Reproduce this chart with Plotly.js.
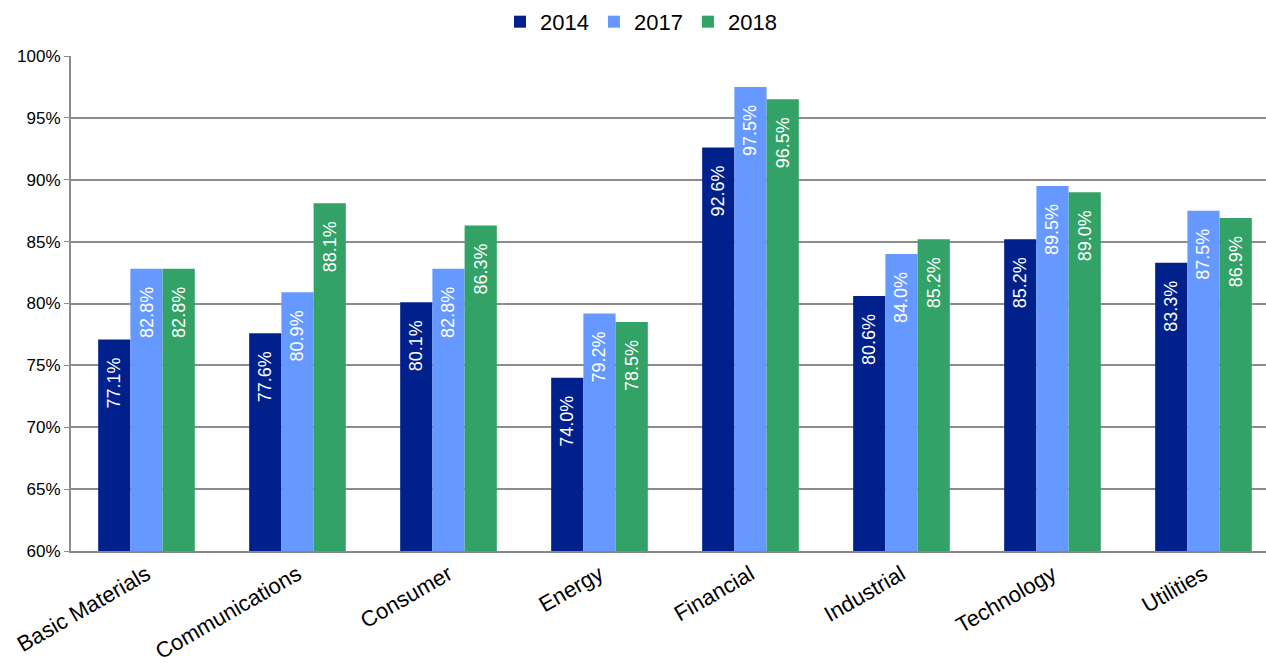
<!DOCTYPE html>
<html><head><meta charset="utf-8">
<script src="https://cdn.plot.ly/plotly-3.0.1.min.js"></script>
<style>html,body{margin:0;padding:0;background:#fff}#chart{width:1266px;height:663px}</style>
</head><body><div id="chart"></div>
<script>
const categories = ["Basic Materials","Communications","Consumer","Energy","Financial","Industrial","Technology","Utilities"];
const seriesNames = ["2014","2017","2018"];
const values2014 = [77.1, 77.6, 80.1, 74.0, 92.6, 80.6, 85.2, 83.3];
const values2017 = [82.8, 80.9, 82.8, 79.2, 97.5, 84.0, 89.5, 87.5];
const values2018 = [82.8, 88.1, 86.3, 78.5, 96.5, 85.2, 89.0, 86.9];
const yTickVals = [60,65,70,75,80,85,90,95,100];
const yTickText = ["60%","65%","70%","75%","80%","85%","90%","95%","100%"];
const colors = ["#00208C","#6699FF","#33A266"];

const pad = '\u00a0\u00a0\u00a0';
const all = [values2014, values2017, values2018];
const traces = all.map((v,i)=>({
  type:'bar', name:seriesNames[i], x:categories, y:v,
  marker:{color:colors[i]},
  text:v.map(d=>d.toFixed(1)+'%'+pad), textposition:'inside', insidetextanchor:'end',
  textangle:-90, textfont:{color:'#ffffff', size:18, family:'Liberation Sans, Arial, sans-serif'},
  constraintext:'none', cliponaxis:false, hoverinfo:'skip'
}));

Plotly.newPlot('chart', traces, {
  width:1266, height:663,
  margin:{l:71, r:0, t:56, b:112},
  barmode:'group', bargap:0.36, bargroupgap:0,
  paper_bgcolor:'#fff', plot_bgcolor:'#fff',
  showlegend:true,
  legend:{orientation:'h', x:0.477, xanchor:'center', yref:'container', y:0.967, yanchor:'middle',
    font:{family:'Liberation Sans Narrow, Liberation Sans, sans-serif', size:22, color:'#000'},
    itemwidth:30, tracegroupgap:0},
  xaxis:{range:[-0.5, 7.414], tickangle:-30, tickfont:{family:'Liberation Sans, Arial, sans-serif', size:22, color:'#000'},
    showline:true, linecolor:'#888', linewidth:2, ticks:'', showgrid:false, automargin:false},
  yaxis:{range:[60,100], tickvals:yTickVals, ticktext:yTickText,
    tickfont:{family:'Liberation Sans, Arial, sans-serif', size:17, color:'#000'},
    showgrid:true, gridcolor:'#8c8c8c', gridwidth:2, showline:true, linecolor:'#8c8c8c', linewidth:2,
    ticks:'outside', ticklen:5, tickcolor:'#8c8c8c', zeroline:false, automargin:false}
}, {staticPlot:true, displayModeBar:false});
</script></body></html>
